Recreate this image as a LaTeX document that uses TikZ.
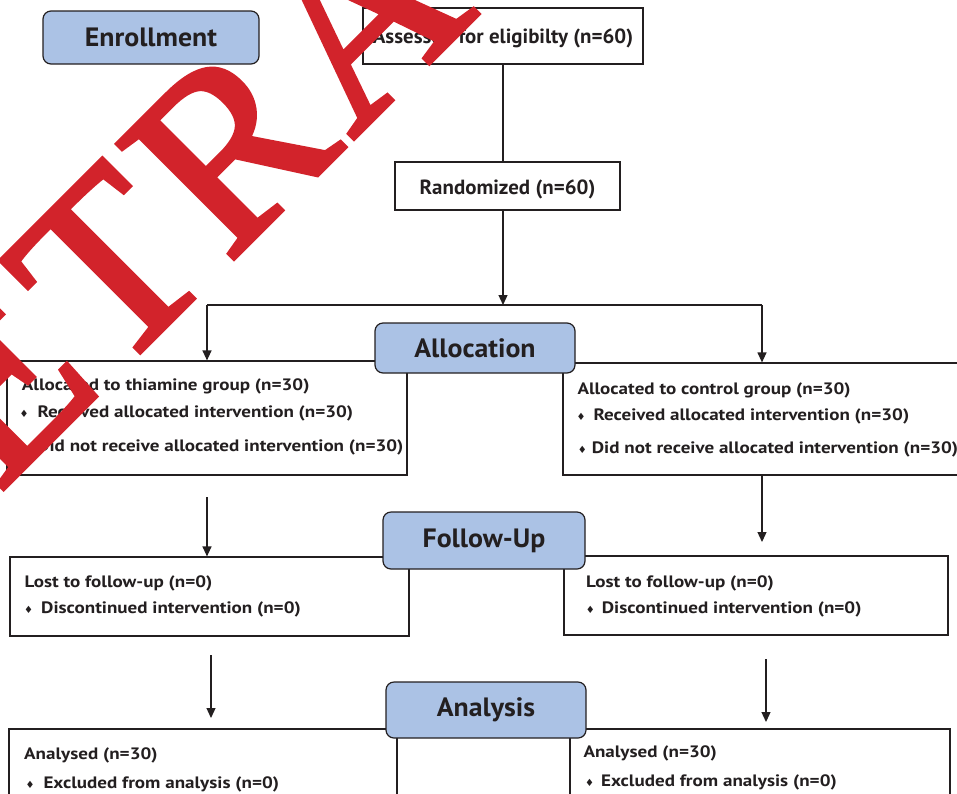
\documentclass[tikz,border=0pt]{standalone}
\usepackage{fontspec}
\setmainfont{PT Sans}
\newfontfamily\smallf{PT Sans}[FakeStretch=1.155]
\newfontfamily\headf{PT Sans}[FakeStretch=1.05]
\newfontfamily\topf{PT Sans}[FakeStretch=1.02]
\newfontfamily\wmfont{Liberation Serif}[FakeBold=2]
\newfontfamily\symfont{DejaVu Sans}
\usetikzlibrary{arrows.meta}
\definecolor{ink}{HTML}{231F20}
\definecolor{headblue}{HTML}{ABC2E5}
\definecolor{wmred}{HTML}{D2232B}
\newcommand{\bul}[1]{\llap{{\symfont\fontsize{10}{10}\selectfont ♦}\hspace{#1pt}}}
\newcommand{\wk}{\kern10pt }
\begin{document}
\begin{tikzpicture}[x=1pt,y=-1pt,
  box/.style={draw=ink, line width=1.2pt, fill=white, inner sep=0pt},
  head/.style={draw=ink, line width=1.2pt, fill=headblue, rounded corners=8pt, inner sep=0pt, font=\headf\fontsize{26.5}{30}\selectfont\bfseries, text=ink},
  txt/.style={anchor=base west, inner sep=0pt, font=\smallf\fontsize{16.5}{19}\selectfont\bfseries, text=ink},
  bigtxt/.style={font=\topf\fontsize{20.5}{24}\selectfont\bfseries, text=ink, text height=18pt},
  conn/.style={draw=ink, line width=1.2pt},
  arr/.style={conn, -{Triangle[width=9pt,length=10pt]}}]
\useasboundingbox (0,0) rectangle (957,793);
\clip (0,0) rectangle (957,793);

% top boxes
\node[box, bigtxt, text depth=3.4pt, minimum width=280pt, minimum height=56pt] (assess) at (503,36) {Assessed for eligibilty (n=60)};
\node[box, bigtxt, text depth=1.4pt, minimum width=225pt, minimum height=48pt] (rand) at (507.5,186) {Randomized (n=60)};

% allocation boxes
\node[box, minimum width=400pt, minimum height=114pt] (alL) at (207,418) {};
\node[box, minimum width=407pt, minimum height=112pt] (alR) at (766.5,419) {};
% follow-up boxes
\node[box, minimum width=399pt, minimum height=79pt] (fuL) at (209.5,596.5) {};
\node[box, minimum width=384pt, minimum height=79pt] (fuR) at (756,595.5) {};
% analysis boxes
\node[box, minimum width=388pt, minimum height=81pt] (anL) at (203,769.5) {};
\node[box, minimum width=380pt, minimum height=81pt] (anR) at (760,769.5) {};

% headings
\node[head, minimum width=216pt, minimum height=53pt] (enroll) at (151,37.5) {Enrollment};
\node[head, minimum width=200pt, minimum height=50pt] (alloc) at (475,348) {Allocation};
\node[head, minimum width=202pt, minimum height=57pt] (follow) at (484,540.5) {Follow-Up};
\node[head, minimum width=200pt, minimum height=56pt] (analysis) at (486,710) {Analysis};

% texts
\node[txt] (l1) at (21.7,390) {Allocated to thiamine group (n=30)};
\node[txt] (l2) at (37.3,417.5) {\bul{9}Received allocated intervention (n=30)};
\node[txt] (l3) at (37,451) {\bul{9}Did not receive allocated intervention (n=30)};
\node[txt] (r1) at (577.3,394) {Allocated to control group (n=30)};
\node[txt] (r2) at (593.3,420) {\bul{8}Received allocated intervention (n=30)};
\node[txt] (r3) at (591.7,453) {\bul{5}Did not receive allocated intervention (n=30)};
\node[txt] (fl1) at (24.5,587) {Lost to follow-up (n=0)};
\node[txt] (fl2) at (41,613) {\bul{8}Discontinued intervention (n=0)};
\node[txt] (fr1) at (586,587.3) {Lost to follow-up (n=0)};
\node[txt] (fr2) at (601.7,613.3) {\bul{7}Discontinued intervention (n=0)};
\node[txt] (al1) at (24,759) {Analysed (n=30)};
\node[txt] (al2) at (43.3,788) {\bul{9}Excluded from analysis (n=0)};
\node[txt] (ar1) at (583.3,757.5) {Analysed (n=30)};
\node[txt] (ar2) at (601,786) {\bul{7}Excluded from analysis (n=0)};

% connectors
\coordinate (split) at (503,305);
\coordinate (bl) at (207,305);
\coordinate (br) at (762,305);
\coordinate (f1) at (207,497);
\coordinate (f2e) at (762,542);
\coordinate (a1) at (211,655);
\coordinate (a1e) at (211,718);
\coordinate (a2) at (766,659);
\coordinate (a2e) at (766,722);
\draw[conn] (assess.south) -- (assess.south |- rand.north);
\draw[arr] (rand.south -| split) -- (split);
\draw[conn] (bl) -- (br);
\draw[arr] (bl) -- (bl |- alL.north);
\draw[arr] (br) -- (br |- alR.north);
\draw[arr] (f1) -- (f1 |- fuL.north);
\draw[arr] (alR.south -| f2e) -- (f2e);
\draw[arr] (a1) -- (a1e);
\draw[arr] (a2) -- (a2e);

% watermark
\node[rotate=45, anchor=base west, inner sep=0pt, text=wmred, font=\wmfont\fontsize{249}{249}\selectfont] (wm) at (-126.1,618.2) {R\wk E\wk T\wk R\wk A\wk C\wk T\wk E\wk D};
\end{tikzpicture}
\end{document}
